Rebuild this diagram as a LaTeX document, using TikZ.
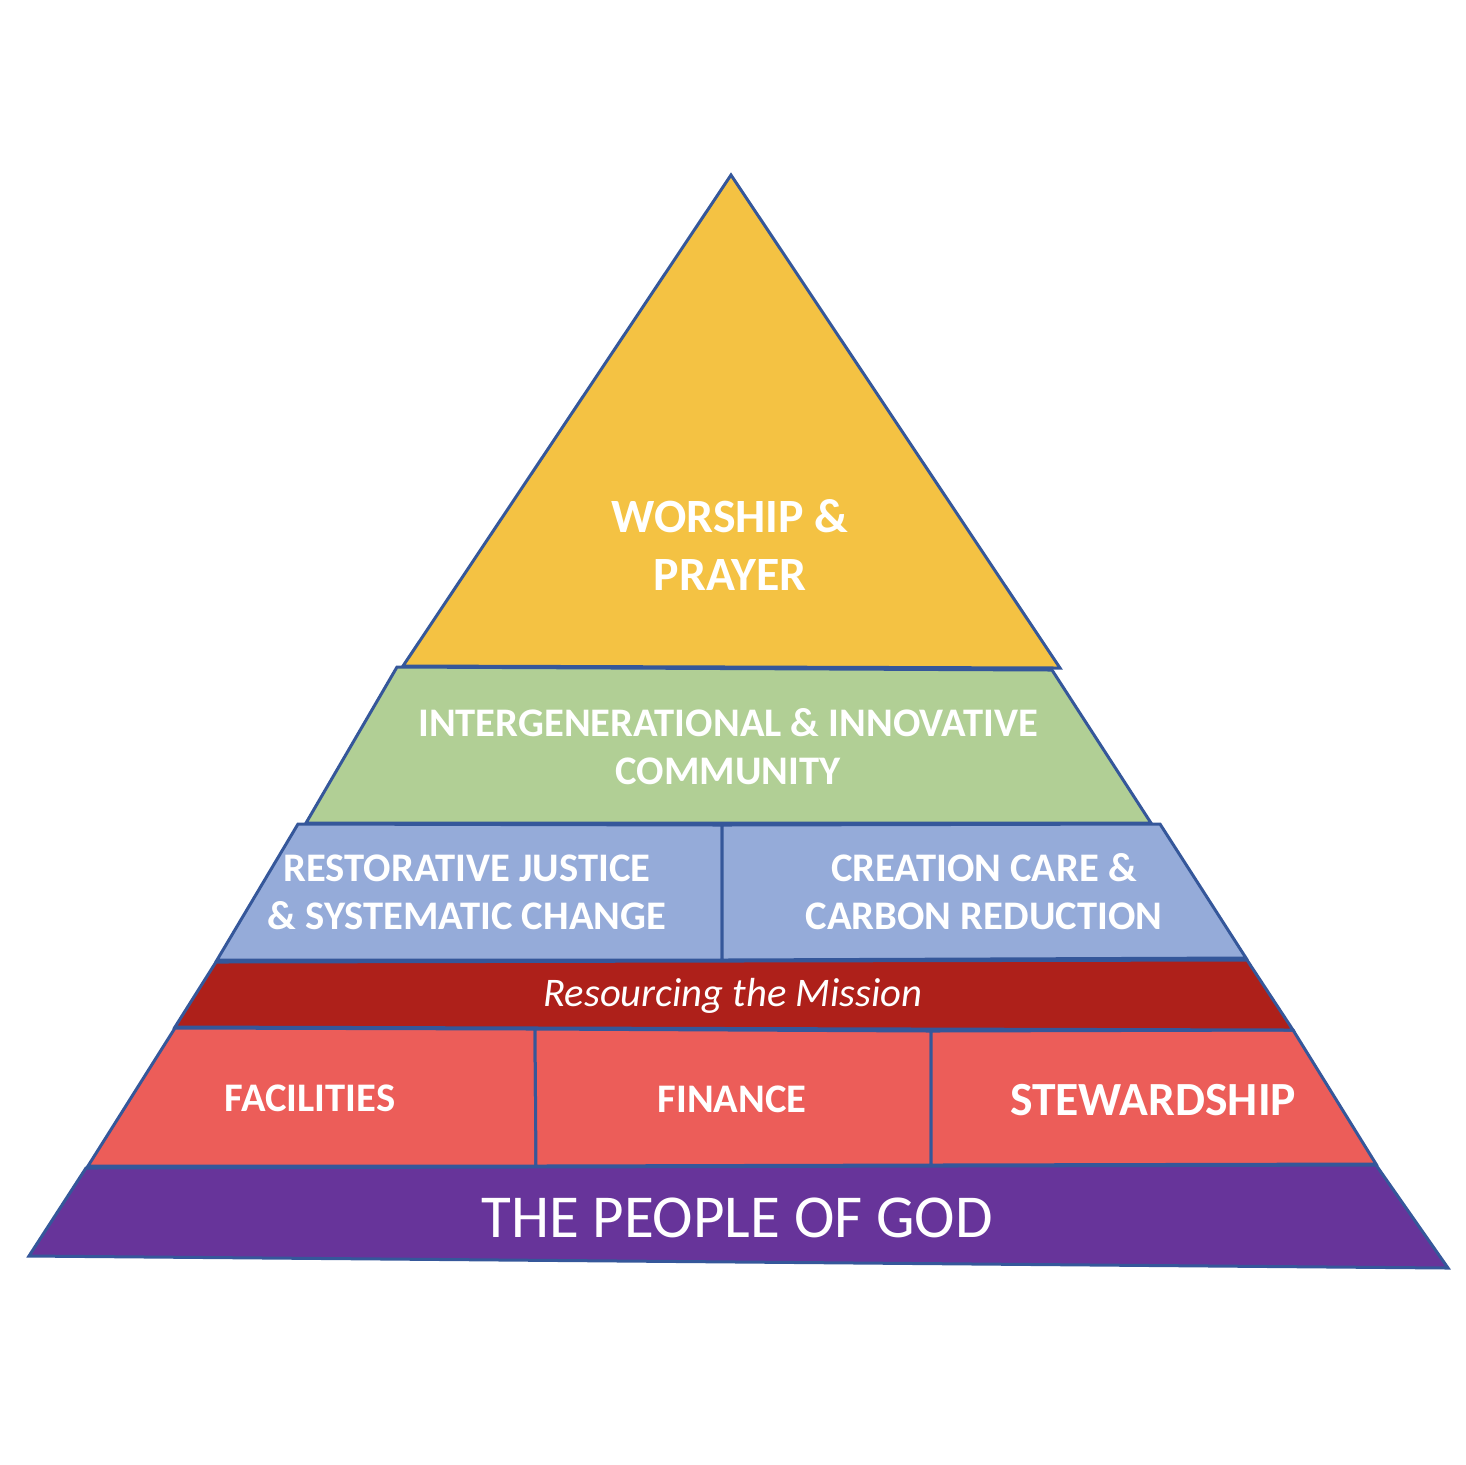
\documentclass[tikz,border=0pt]{standalone}
\usepackage{fontspec}
\setmainfont{Carlito}

\definecolor{edge}{HTML}{35579A}
\definecolor{worshipfill}{HTML}{F4C243}
\definecolor{communityfill}{HTML}{B1CF95}
\definecolor{justicefill}{HTML}{95ABD9}
\definecolor{resourcefill}{HTML}{AE201A}
\definecolor{basefill}{HTML}{EC5D59}
\definecolor{peoplefill}{HTML}{67349A}

\begin{document}
\begin{tikzpicture}[
  x=0.5pt, y=-0.5pt,
  layer/.style={draw=edge, line width=1.5pt, line join=miter},
  lbl/.style={text=white, align=center, inner sep=0pt, font=\bfseries\fontsize{20.3}{24}\selectfont}
]
\useasboundingbox (0,0) rectangle (1466,1464);

% Layers, bottom up
\filldraw[layer, fill=peoplefill] (86,1168) -- (1376,1165) -- (1448,1268) -- (29,1256) -- cycle;
\filldraw[layer, fill=basefill] (175,1028) -- (535,1029) -- (536,1166) -- (88,1166) -- cycle;
\filldraw[layer, fill=basefill] (535,1029) -- (931,1031) -- (931,1165) -- (536,1166) -- cycle;
\filldraw[layer, fill=basefill] (931,1031) -- (1293,1030) -- (1376,1164) -- (931,1165) -- cycle;
\filldraw[layer, fill=resourcefill] (216,962) -- (1247,960) -- (1293,1030) -- (175,1027) -- cycle;
\filldraw[layer, fill=justicefill] (298,824) -- (722,825) -- (722,960) -- (217,960) -- cycle;
\filldraw[layer, fill=justicefill] (722,825) -- (1160,824) -- (1246,958) -- (722,960) -- cycle;
\filldraw[layer, fill=communityfill] (397,667) -- (1052,670) -- (1151,823) -- (306,823) -- cycle;
\filldraw[layer, fill=worshipfill] (731,175) -- (1060,668) -- (403,666) -- cycle;

% Labels
\node[lbl, font=\bfseries\fontsize{23.9}{29}\selectfont] (worship) at (730,545) {WORSHIP \&\\PRAYER};
\node[lbl] (community) at (728,747) {INTERGENERATIONAL \& INNOVATIVE\\COMMUNITY};
\node[lbl] (justice) at (467,892) {RESTORATIVE JUSTICE\\\& SYSTEMATIC CHANGE};
\node[lbl] (creation) at (984,892) {CREATION CARE \&\\CARBON REDUCTION};
\node[lbl, font=\itshape\fontsize{20.3}{24}\selectfont] (mission) at (733,996) {Resourcing the Mission};
\node[lbl] (facilities) at (310,1098) {FACILITIES};
\node[lbl] (finance) at (732,1099) {FINANCE};
\node[lbl, font=\bfseries\fontsize{23.8}{28}\selectfont] (stewardship) at (1153,1100) {STEWARDSHIP};
\node[lbl, font=\fontsize{30.5}{36}\selectfont] (people) at (737,1218) {THE PEOPLE OF GOD};

\end{tikzpicture}
\end{document}
